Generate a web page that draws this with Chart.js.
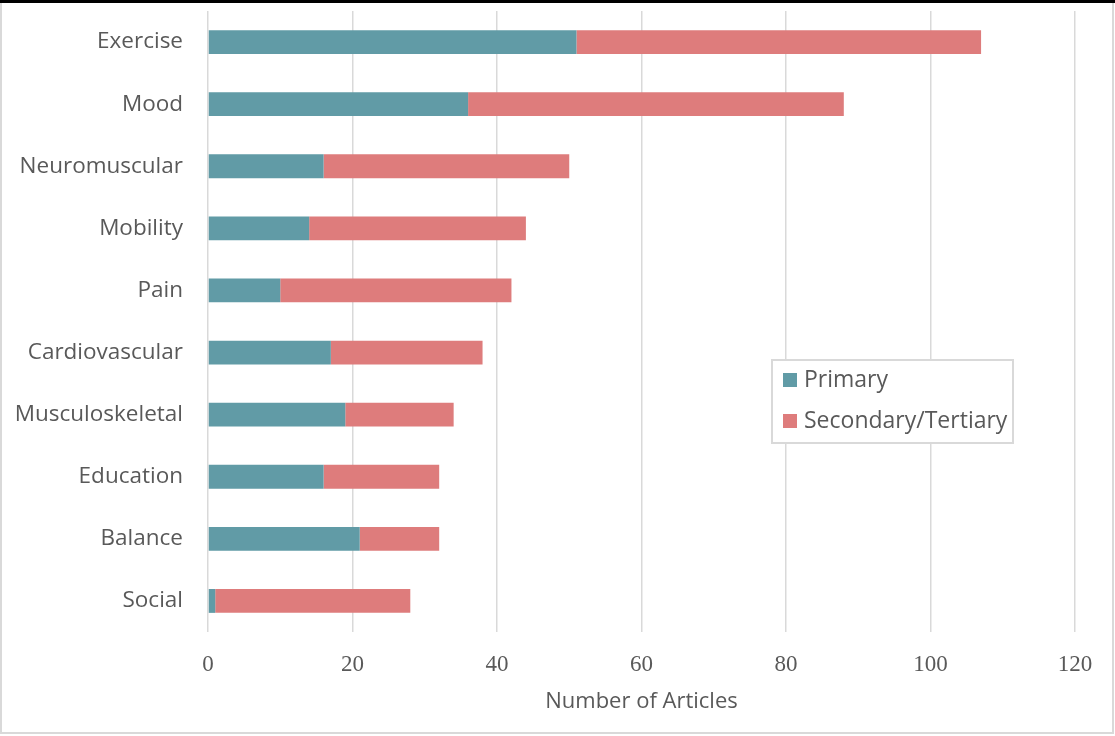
<!DOCTYPE html>
<html lang="en">
    <head>
        <meta charset="utf-8" />
        <script src="https://cdn.jsdelivr.net/npm/chart.js@4.4.1/dist/chart.umd.min.js"></script>
        <title>Number of Articles</title>
        <style>
            body { margin: 0; background: #fff; }
            #wrap { width: 1115px; height: 736px; }
        </style>
    </head>
    <body>
        <div id="wrap"><canvas id="articles"></canvas></div>
        <script>
            // categories, top to bottom
            const categories = ["Exercise", "Mood", "Neuromuscular", "Mobility", "Pain",
                "Cardiovascular", "Musculoskeletal", "Education", "Balance", "Social"];
            const primary = [51, 36, 16, 14, 10, 17, 19, 16, 21, 1];
            const secondaryTertiary = [56, 52, 34, 30, 32, 21, 15, 16, 11, 27];
            const xTicks = [0, 20, 40, 60, 80, 100, 120];

            const gris = "#595959";
            const sans = "'Open Sans', sans-serif";

            // legend box drawn inside the plot, plus the frame round the picture
            const cuadro = {
                id: "cuadro",
                afterDraw(chart) {
                    const ctx = chart.ctx;
                    ctx.save();
                    // frame
                    ctx.strokeStyle = "#d9d9d9";
                    ctx.lineWidth = 2;
                    ctx.strokeRect(1, 1, 1112, 732);
                    ctx.fillStyle = "#000";
                    ctx.fillRect(0, 0, 1115, 3);
                    // legend
                    ctx.fillStyle = "#fff";
                    ctx.fillRect(772, 360, 241, 83);
                    ctx.strokeRect(772, 360, 241, 83);
                    ctx.font = "23px " + sans;
                    ctx.textBaseline = "middle";
                    chart.data.datasets.forEach((d, i) => {
                        const y = 380 + i * 41;
                        ctx.fillStyle = d.backgroundColor;
                        ctx.fillRect(783, y - 7, 14, 14);
                        ctx.fillStyle = gris;
                        ctx.fillText(d.label, 804, y);
                    });
                    ctx.restore();
                }
            };

            new Chart(document.getElementById("articles").getContext("2d"), {
                type: "bar",
                data: {
                    labels: categories,
                    datasets: [
                        { label: "Primary", data: primary, backgroundColor: "#619BA6",
                          categoryPercentage: 0.8, barPercentage: 0.48 },
                        { label: "Secondary/Tertiary", data: secondaryTertiary, backgroundColor: "#DE7C7C",
                          categoryPercentage: 0.8, barPercentage: 0.48 }
                    ]
                },
                options: {
                    indexAxis: "y",
                    responsive: true,
                    maintainAspectRatio: false,
                    animation: false,
                    layout: { padding: { top: 11, right: 40, bottom: 20, left: 0 } },
                    plugins: {
                        legend: { display: false },
                        tooltip: { enabled: false }
                    },
                    scales: {
                        x: {
                            stacked: true,
                            min: 0,
                            max: 120,
                            afterBuildTicks: (s) => { s.ticks = xTicks.map(v => ({ value: v })); },
                            afterFit: (s) => { s.height = 84; },
                            grid: { color: "#d9d9d9", lineWidth: 1.5, drawTicks: false },
                            border: { display: false },
                            ticks: { color: gris, padding: 19, font: { family: "'Liberation Serif', serif", size: 23 } },
                            title: {
                                display: true,
                                text: "Number of Articles",
                                color: gris,
                                font: { family: sans, size: 22 },
                                padding: { top: 4, bottom: 1 }
                            }
                        },
                        y: {
                            stacked: true,
                            afterFit: (s) => {
                                s.width = 208;
                                // no extra room above the first label
                                s.paddingTop = 0;
                                s.paddingBottom = 0;
                            },
                            grid: { display: false },
                            border: { display: false },
                            ticks: { color: gris, padding: 17, font: { family: sans, size: 22.5 } }
                        }
                    }
                },
                plugins: [cuadro]
            });
        </script>
    </body>
</html>
